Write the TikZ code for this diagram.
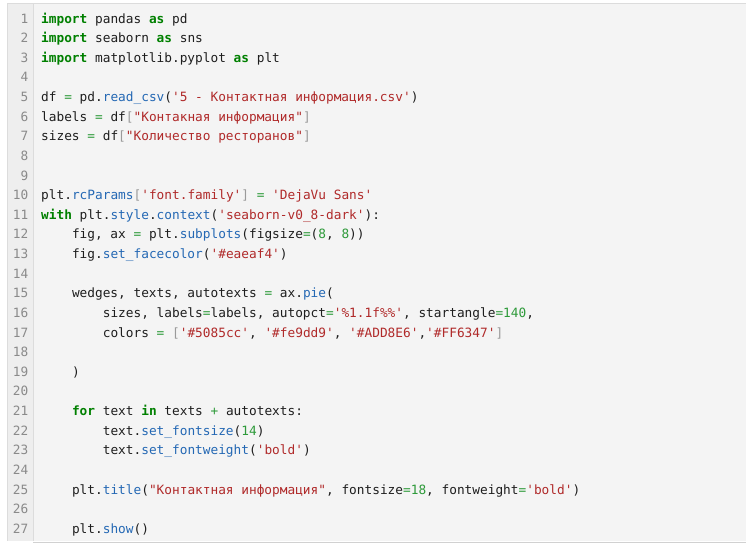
\documentclass[tikz,border=0pt]{standalone}
\usepackage{fontspec}
\setmonofont{DejaVu Sans Mono}
\definecolor{kw}{HTML}{008000}
\definecolor{fnc}{HTML}{2468B4}
\definecolor{strc}{HTML}{B02A2A}
\definecolor{numc}{HTML}{2E9A3A}
\definecolor{opc}{HTML}{2E9A3A}
\definecolor{brc}{HTML}{9A9A9A}
\definecolor{txt}{HTML}{1E1E1E}
\definecolor{lnc}{HTML}{8A8A8A}
\definecolor{codebg}{HTML}{F4F4F4}
\definecolor{gutbg}{HTML}{EEEEEE}
\definecolor{bordc}{HTML}{DCDCDC}
\newcommand\Ck[1]{\textcolor{kw}{\bfseries #1}}
\newcommand\Cf[1]{\textcolor{fnc}{#1}}
\newcommand\Cs[1]{\textcolor{strc}{#1}}
\newcommand\Cn[1]{\textcolor{numc}{#1}}
\newcommand\Co[1]{\textcolor{opc}{#1}}
\newcommand\Cb[1]{\textcolor{brc}{#1}}
\newcommand\Ind[1]{\hspace*{#1\dimexpr 7.7pt\relax}}
\begin{document}
\begin{tikzpicture}[x=1pt,y=-1pt,
  codeline/.style={anchor=base west,inner sep=0pt,text=txt,font=\ttfamily\fontsize{12.79}{14}\selectfont},
  lnum/.style={anchor=base east,inner sep=0pt,text=lnc,font=\ttfamily\fontsize{12.79}{14}\selectfont}]
\useasboundingbox (0,0) rectangle (746,547);
\fill[white] (0,0) rectangle (746,547);
% code area
\fill[codebg] (33,3) rectangle (746,541);
\fill[gutbg] (7,3) rectangle (33,541);
\draw[bordc,line width=1pt] (7,3.5) -- (746,3.5);
\draw[bordc,line width=1pt] (7.5,3) -- (7.5,541);
\draw[bordc,line width=0.8pt] (33,3) -- (33,541);
\draw[black!18,line width=1pt] (33,542.5) -- (746,542.5);
% line numbers
\foreach \i in {1,...,27}{
  \node[lnum] (n\i) at (28.5,{23+(\i-1)*19.63}) {\i};
}
\def\yy#1{{23+(#1-1)*19.63}}
\node[codeline] (l1) at (41,\yy{1}) {\Ck{import} pandas \Ck{as} pd};
\node[codeline] (l2) at (41,\yy{2}) {\Ck{import} seaborn \Ck{as} sns};
\node[codeline] (l3) at (41,\yy{3}) {\Ck{import} matplotlib.pyplot \Ck{as} plt};
\node[codeline] (l5) at (41,\yy{5}) {df \Co{=} pd.\Cf{read\_csv}(\Cs{'5 - Контактная информация.csv'})};
\node[codeline] (l6) at (41,\yy{6}) {labels \Co{=} df\Cb{[}\Cs{"Контакная информация"}\Cb{]}};
\node[codeline] (l7) at (41,\yy{7}) {sizes \Co{=} df\Cb{[}\Cs{"Количество ресторанов"}\Cb{]}};
\node[codeline] (l10) at (41,\yy{10}) {plt.\Cf{rcParams}\Cb{[}\Cs{'font.family'}\Cb{]} \Co{=} \Cs{'DejaVu Sans'}};
\node[codeline] (l11) at (41,\yy{11}) {\Ck{with} plt.\Cf{style}.\Cf{context}(\Cs{'seaborn-v0\_8-dark'}):};
\node[codeline] (l12) at (41,\yy{12}) {\Ind{4}fig, ax \Co{=} plt.\Cf{subplots}(figsize\Co{=}(\Cn{8}, \Cn{8}))};
\node[codeline] (l13) at (41,\yy{13}) {\Ind{4}fig.\Cf{set\_facecolor}(\Cs{'\#eaeaf4'})};
\node[codeline] (l15) at (41,\yy{15}) {\Ind{4}wedges, texts, autotexts \Co{=} ax.\Cf{pie}(};
\node[codeline] (l16) at (41,\yy{16}) {\Ind{8}sizes, labels\Co{=}labels, autopct\Co{=}\Cs{'\%1.1f\%\%'}, startangle\Co{=}\Cn{140},};
\node[codeline] (l17) at (41,\yy{17}) {\Ind{8}colors \Co{=} \Cb{[}\Cs{'\#5085cc'}, \Cs{'\#fe9dd9'}, \Cs{'\#ADD8E6'},\Cs{'\#FF6347'}\Cb{]}};
\node[codeline] (l19) at (41,\yy{19}) {\Ind{4})};
\node[codeline] (l21) at (41,\yy{21}) {\Ind{4}\Ck{for} text \Ck{in} texts \Co{+} autotexts:};
\node[codeline] (l22) at (41,\yy{22}) {\Ind{8}text.\Cf{set\_fontsize}(\Cn{14})};
\node[codeline] (l23) at (41,\yy{23}) {\Ind{8}text.\Cf{set\_fontweight}(\Cs{'bold'})};
\node[codeline] (l25) at (41,\yy{25}) {\Ind{4}plt.\Cf{title}(\Cs{"Контактная информация"}, fontsize\Co{=}\Cn{18}, fontweight\Co{=}\Cs{'bold'})};
\node[codeline] (l27) at (41,\yy{27}) {\Ind{4}plt.\Cf{show}()};
\end{tikzpicture}
\end{document}
